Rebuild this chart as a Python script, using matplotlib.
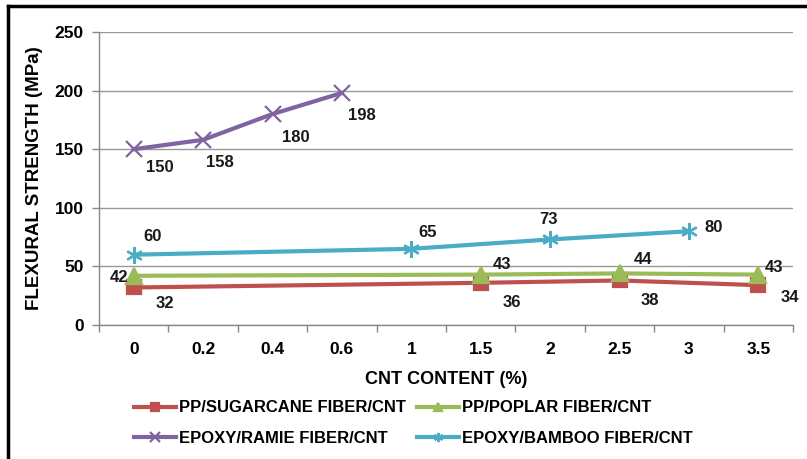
import matplotlib
matplotlib.use("Agg")
import matplotlib.pyplot as plt
from matplotlib.lines import Line2D
from matplotlib import font_manager as fm
import numpy as np

plt.rcParams['font.family'] = ['Liberation Sans', 'DejaVu Sans']
plt.rcParams['font.weight'] = 'bold'
plt.rcParams['axes.labelweight'] = 'bold'

categories = ["0", "0.2", "0.4", "0.6", "1", "1.5", "2", "2.5", "3", "3.5"]
sugarcane_x = ["0", "1.5", "2.5", "3.5"]
sugarcane_y = [32, 36, 38, 34]
poplar_x = ["0", "1.5", "2.5", "3.5"]
poplar_y = [42, 43, 44, 43]
ramie_x = ["0", "0.2", "0.4", "0.6"]
ramie_y = [150, 158, 180, 198]
bamboo_x = ["0", "1", "2", "3"]
bamboo_y = [60, 65, 73, 80]
yticks = [0, 50, 100, 150, 200, 250]

W, H = 807, 459
fig = plt.figure(figsize=(W/100, H/100), dpi=100)
ax = fig.add_axes([99/W, 1-325/H, (793-99)/W, (325-32)/H])

pos = {c: i for i, c in enumerate(categories)}

series = [
    ("PP/SUGARCANE FIBER/CNT", sugarcane_x, sugarcane_y, '#C0504D', 's', 10),
    ("PP/POPLAR FIBER/CNT", poplar_x, poplar_y, '#9BBB59', '^', 11),
    ("EPOXY/RAMIE FIBER/CNT", ramie_x, ramie_y, '#8064A2', 'x', 12),
    ("EPOXY/BAMBOO FIBER/CNT", bamboo_x, bamboo_y, '#4BACC6', (6, 2, 0), 12),
]
handles = []
for name, xs, ys, col, mk, ms in series:
    xp = [pos[x] for x in xs]
    l, = ax.plot(xp, ys, color=col, lw=3, marker=mk, ms=ms, mew=1.6,
                 mec=col, mfc=col, label=name, zorder=3)
    handles.append(l)

dl = fm.FontProperties(family='Liberation Sans', weight='bold', size=12)
def lab(xs, ys, offs, ha='left'):
    # offs: (dx to text edge in px, dy downward in px)
    for (x, y), (dx, dy) in zip(zip(xs, ys), offs):
        ax.annotate(str(y), (pos[x], y), xytext=(dx, -dy), textcoords='offset pixels',
                    ha=ha, va='center', fontproperties=dl, color='#1a1a1a', zorder=4)

lab(ramie_x, ramie_y, [(12, 18), (3, 23), (9, 23), (6, 23)])
lab(bamboo_x, bamboo_y, [(10, -18), (7, -16), (-11, -20), (16, -4)])
lab(sugarcane_x, sugarcane_y, [(22, 16), (22, 20), (21, 20), (22, 12)])
lab(poplar_x[:1], poplar_y[:1], [(-5, 2)], ha='right')
lab(poplar_x[1:], poplar_y[1:], [(12, -10), (14, -14), (6, -7)])

ax.set_xlim(-0.5, len(categories) - 0.5)
ax.set_ylim(0, 250)
ax.set_yticks(yticks)
ax.set_xticks(range(len(categories)))
ax.set_xticklabels(categories)
ax.set_xticks(np.arange(-0.5, len(categories), 1), minor=True)
ax.tick_params(axis='x', which='major', length=0, pad=12)
ax.tick_params(axis='x', which='minor', length=5, color='#888888', width=1)
ax.tick_params(axis='y', length=5, color='#888888', width=1, pad=6)
tk = fm.FontProperties(family='Liberation Sans', weight='bold', size=12.5)
for t in ax.get_xticklabels() + ax.get_yticklabels():
    t.set_fontproperties(tk)
ax.yaxis.grid(True, color='#999999', lw=1)
ax.set_axisbelow(True)
for s in ['top', 'right']:
    ax.spines[s].set_visible(False)
for s in ['left', 'bottom']:
    ax.spines[s].set_color('#888888')
    ax.spines[s].set_linewidth(1)

ax.set_xlabel("CNT CONTENT (%)", fontproperties=fm.FontProperties(family='Liberation Sans', weight='bold', size=13), labelpad=10)
ax.set_ylabel("FLEXURAL STRENGTH (MPa)", fontproperties=fm.FontProperties(family='Liberation Sans', weight='bold', size=13.5), labelpad=8)

legp = fm.FontProperties(family='Liberation Sans', weight='bold', size=12)
legkw = dict(loc='upper left', frameon=False, prop=legp, handlelength=2.5,
             handletextpad=0.18, labelspacing=0.95, markerscale=0.55,
             borderaxespad=0, borderpad=0.2)
leg1 = fig.legend(handles=[handles[0], handles[2]], bbox_to_anchor=(131/W, 1-397/H), **legkw)
leg2 = fig.legend(handles=[handles[1], handles[3]], bbox_to_anchor=(414/W, 1-397/H), **legkw)

fig.add_artist(Line2D([8/W, 1], [1-6/H, 1-6/H], color='black', lw=2.5, transform=fig.transFigure))
fig.add_artist(Line2D([8/W, 8/W], [0, 1-6/H], color='black', lw=2.5, transform=fig.transFigure))

fig.savefig("out.png", dpi=100)
